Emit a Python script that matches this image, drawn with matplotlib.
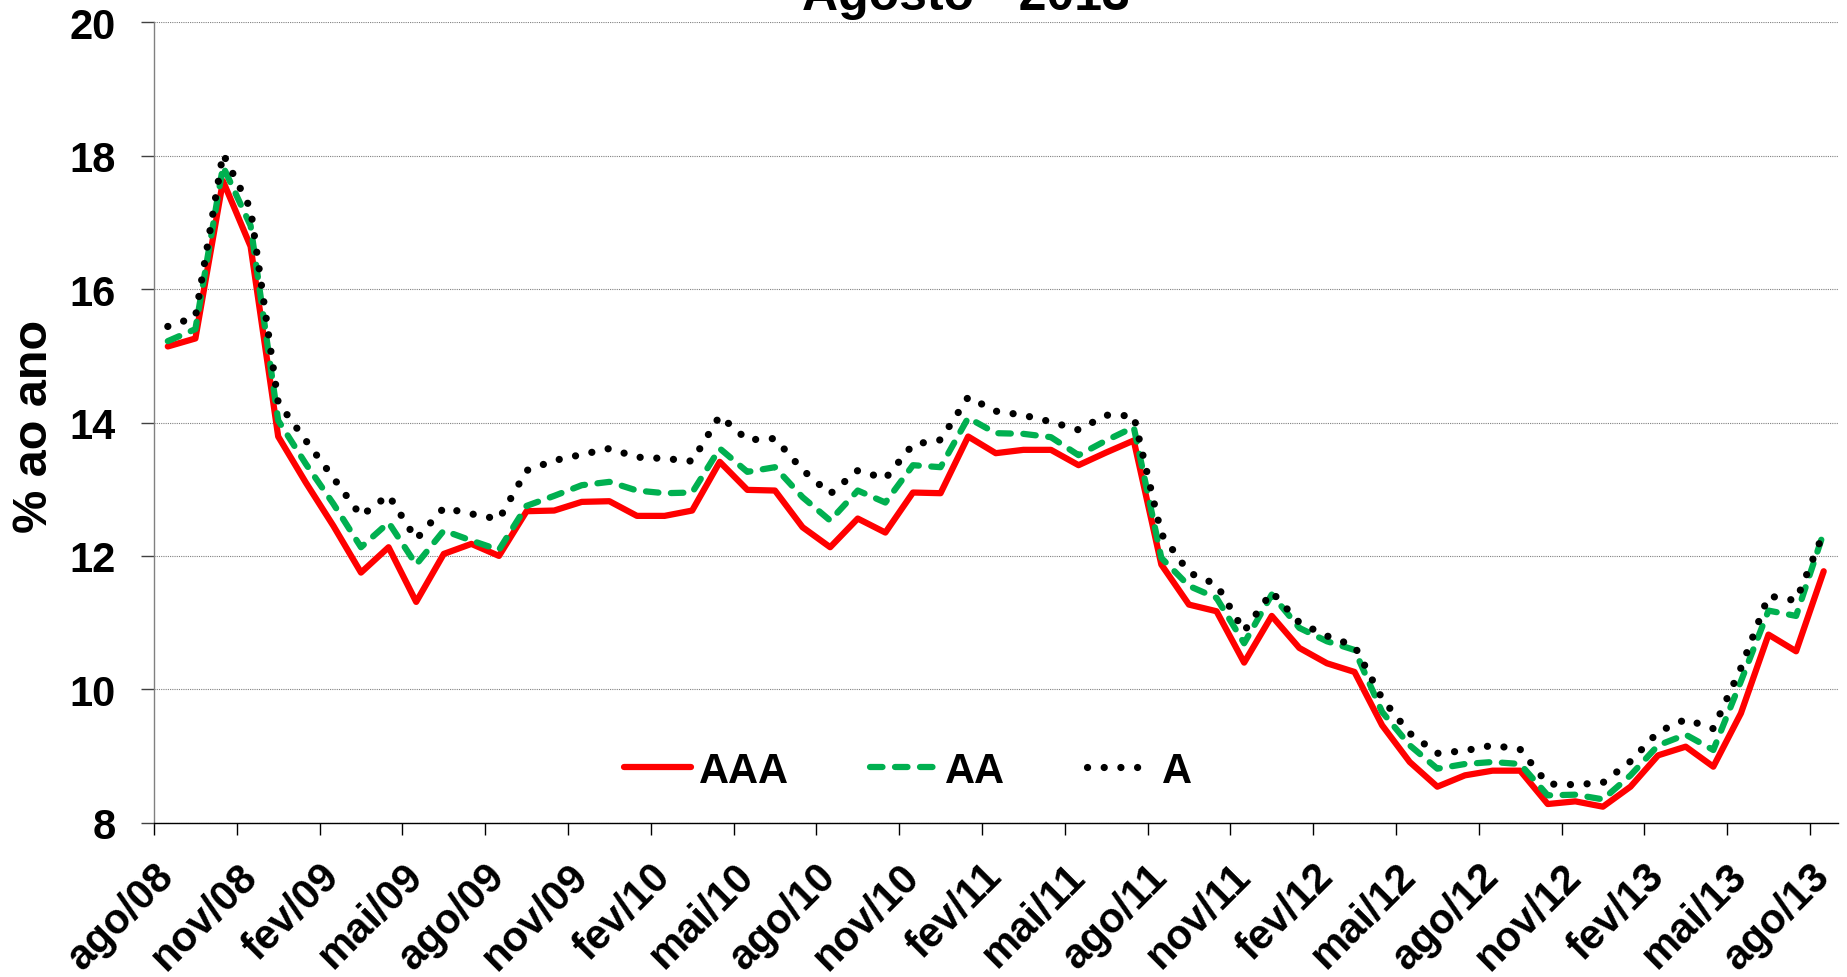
import matplotlib
matplotlib.use("Agg")
import matplotlib.pyplot as plt

plt.rcParams['font.family'] = ['Liberation Sans', 'DejaVu Sans']

# ---------------- data ----------------
tick_labels = ["ago/08", "nov/08", "fev/09", "mai/09", "ago/09", "nov/09", "fev/10",
               "mai/10", "ago/10", "nov/10", "fev/11", "mai/11", "ago/11", "nov/11",
               "fev/12", "mai/12", "ago/12", "nov/12", "fev/13", "mai/13", "ago/13"]

AAA = [15.14, 15.26, 17.62, 16.64, 13.79, 13.10, 12.45, 11.75, 12.13, 11.31,
       12.03, 12.18, 12.00, 12.67, 12.68, 12.81, 12.82, 12.60, 12.60, 12.68,
       13.41, 12.99, 12.98, 12.43, 12.13, 12.56, 12.35, 12.95, 12.94, 13.79,
       13.54, 13.59, 13.59, 13.36, 13.55, 13.73, 11.87, 11.27, 11.17, 10.40,
       11.10, 10.62, 10.39, 10.26, 9.46, 8.91, 8.54, 8.71, 8.78, 8.78,
       8.28, 8.32, 8.24, 8.54, 9.01, 9.14, 8.84, 9.64, 10.82, 10.57, 11.77]

AA = [15.22, 15.40, 17.84, 16.95, 14.03, 13.38, 12.78, 12.13, 12.50, 11.87,
      12.38, 12.23, 12.09, 12.75, 12.90, 13.06, 13.11, 12.98, 12.94, 12.95,
      13.61, 13.26, 13.33, 12.88, 12.53, 12.98, 12.80, 13.36, 13.33, 14.07,
      13.84, 13.83, 13.78, 13.51, 13.73, 13.93, 11.97, 11.55, 11.37, 10.69,
      11.42, 10.92, 10.72, 10.59, 9.66, 9.16, 8.81, 8.88, 8.91, 8.88,
      8.41, 8.42, 8.35, 8.71, 9.16, 9.32, 9.09, 10.12, 11.18, 11.10, 12.35]

A = [15.44, 15.58, 18.03, 17.20, 14.30, 13.73, 13.17, 12.60, 12.91, 12.25,
     12.72, 12.63, 12.55, 13.28, 13.43, 13.52, 13.61, 13.48, 13.46, 13.42,
     14.10, 13.74, 13.76, 13.29, 12.93, 13.28, 13.16, 13.67, 13.74, 14.38,
     14.17, 14.11, 14.01, 13.89, 14.11, 14.10, 12.33, 11.75, 11.57, 10.87,
     11.46, 11.00, 10.80, 10.65, 9.86, 9.34, 9.04, 9.08, 9.16, 9.10,
     8.58, 8.57, 8.60, 8.92, 9.36, 9.55, 9.41, 10.32, 11.40, 11.33, 12.35]

title = "Agosto - 2013"
ylabel = "% ao ano"

# ---------------- figure ----------------
W, H = 1847, 978
fig = plt.figure(figsize=(W / 100, H / 100), dpi=100)
left, right, top, bottom = 154, 1837.5, 23.3, 823.7
ax = fig.add_axes([left / W, 1 - bottom / H, (right - left) / W, (bottom - top) / H])

FS = 30

n = len(AAA)
x = list(range(n))
ax.plot(x, AAA, color='#FF0000', lw=4.5, solid_joinstyle='round',
        solid_capstyle='round', label='AAA', zorder=3)
ax.plot(x, AA, color='#00B050', lw=4.5, linestyle=(0, (2.0, 2.0)),
        dash_capstyle='round', dash_joinstyle='round', label='AA', zorder=4)
ax.plot(x, A, color='black', lw=5.2, linestyle=(0, (0.01, 2.3)),
        dash_capstyle='round', label='A', zorder=5)

ax.set_xlim(-0.5, n - 0.5)
ax.set_ylim(8, 20)

# y axis
ax.set_yticks(range(8, 21, 2))
ax.set_yticklabels([str(v) for v in range(8, 21, 2)], fontsize=FS, fontweight='bold')
ax.tick_params(axis='y', direction='out', length=9.4, width=1, color='#404040', pad=18)
ax.yaxis.grid(True, linestyle=(0, (1, 1)), color='#808080', lw=0.8)
ax.set_axisbelow(True)

# x axis: ticks between categories, labels on category centres
step = 3
major_pos = [i - 0.5 for i in range(0, n, step)]
minor_pos = [i for i in range(0, n, step)]
ax.set_xticks(major_pos)
ax.set_xticklabels([''] * len(major_pos))
ax.set_xticks(minor_pos, minor=True)
ax.set_xticklabels(tick_labels, minor=True, fontsize=FS, fontweight='bold')
ax.tick_params(axis='x', which='major', direction='out', length=8.6, width=1, color='black')
ax.tick_params(axis='x', which='minor', length=0, pad=34)
for lab in ax.get_xticklabels(minor=True):
    lab.set_rotation(45)
    lab.set_ha('right')
    lab.set_va('center')
    lab.set_rotation_mode('anchor')

for s in ['top', 'right']:
    ax.spines[s].set_visible(False)
ax.spines['left'].set_color('#808080')
ax.spines['left'].set_linewidth(1.0)
ax.spines['bottom'].set_color('black')
ax.spines['bottom'].set_linewidth(1.0)

# legend
leg = ax.legend(loc='center left', bbox_to_anchor=(624 / W, 1 - 771.7 / H),
                bbox_transform=fig.transFigure, ncol=3, frameon=False,
                borderpad=0, borderaxespad=0, handlelength=1.6,
                handletextpad=0.2, columnspacing=1.95,
                prop={'size': FS, 'weight': 'bold'})

# title (partly cut off at the top) and y label
fig.text(966 / W, 1 - 10 / H, title, ha='center', va='baseline',
         fontsize=36, fontweight='bold')
fig.text(35 / W, 1 - 426 / H, ylabel, rotation=90, ha='center', va='center',
         fontsize=35, fontweight='bold')

fig.savefig('out.png', dpi=100)
